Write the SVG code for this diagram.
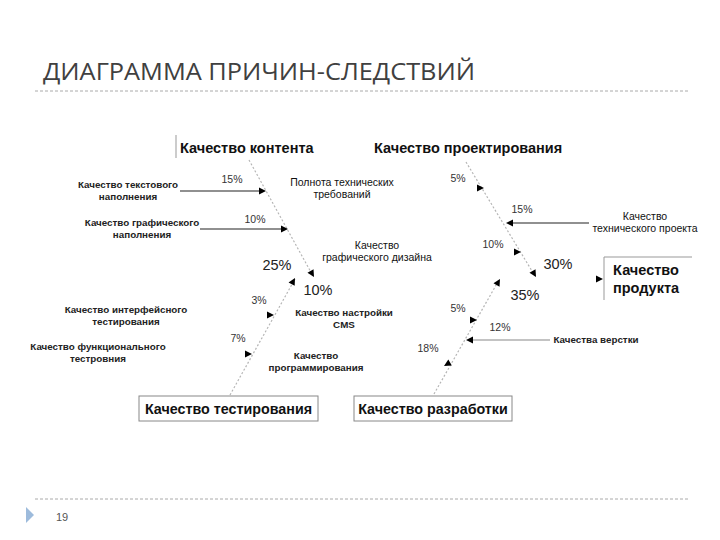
<svg xmlns="http://www.w3.org/2000/svg" width="720" height="540" viewBox="0 0 720 540">
<style>
.sm{font-family:"Liberation Sans",Arial,sans-serif;font-size:10.5px;fill:#111;text-anchor:middle}
.smb{font-family:"Liberation Sans",Arial,sans-serif;font-size:9.8px;font-weight:bold;fill:#222;text-anchor:middle}
.pc{font-family:"Liberation Sans",Arial,sans-serif;font-size:10.5px;fill:#333;text-anchor:middle}
.pl{font-family:"Liberation Sans",Arial,sans-serif;font-size:14.5px;fill:#222;text-anchor:middle}
.hd{font-family:"Liberation Sans",Arial,sans-serif;font-size:14.5px;font-weight:bold;fill:#111}
.bx{font-family:"Liberation Sans",Arial,sans-serif;font-size:14.3px;font-weight:bold;fill:#111;text-anchor:middle}
.bone{stroke:#b5b5b5;stroke-width:1.2;stroke-dasharray:2 2;fill:none}
.hl{stroke:#222;stroke-width:1.2;fill:none}
.hlg{stroke:#888;stroke-width:1.2;fill:none}
.box{fill:#fff;stroke:#888;stroke-width:1}
.dash{stroke:#aaa;stroke-width:1;stroke-dasharray:3 2}
</style>
<defs>
<path id="ah" d="M0,0 L-7,-3.5 L-7,3.5 Z" fill="#000"/>
</defs>

<g id="title">
<text x="43" y="80" font-family="'Open Sans','Liberation Sans',sans-serif" font-size="24" fill="#404040" textLength="432" lengthAdjust="spacingAndGlyphs">ДИАГРАММА ПРИЧИН-СЛЕДСТВИЙ</text>
<line x1="35" y1="91" x2="690" y2="91" class="dash"/>
</g>

<g id="footer">
<line x1="35" y1="499" x2="690" y2="499" class="dash"/>
<polygon points="26,507 34,515 26,523" fill="#9dbbdc"/>
<text x="56" y="521" font-family="'Liberation Sans',sans-serif" font-size="11" fill="#555">19</text>
</g>

<g id="connectors">
<line class="bone" x1="249" y1="160" x2="313" y2="276"/>
<line class="bone" x1="466" y1="162" x2="535" y2="276"/>
<line class="bone" x1="230" y1="395" x2="295" y2="279"/>
<line class="bone" x1="434" y1="394" x2="499" y2="280"/>
<line class="hl" x1="180" y1="191" x2="260" y2="191"/>
<line class="hl" x1="200" y1="229" x2="282" y2="229"/>
<line class="hl" x1="512" y1="223" x2="589" y2="223"/>
<line class="hlg" x1="472" y1="340" x2="550" y2="340"/>
<use href="#ah" transform="translate(266,191)"/>
<use href="#ah" transform="translate(288,229)"/>
<use href="#ah" transform="translate(314,277) rotate(60)"/>
<use href="#ah" transform="translate(484,188)"/>
<use href="#ah" transform="translate(506,223) rotate(180)"/>
<use href="#ah" transform="translate(521,252)"/>
<use href="#ah" transform="translate(536,277) rotate(60)"/>
<use href="#ah" transform="translate(295,278) rotate(-61)"/>
<use href="#ah" transform="translate(274,315)"/>
<use href="#ah" transform="translate(252,354)"/>
<use href="#ah" transform="translate(500,279) rotate(-60)"/>
<use href="#ah" transform="translate(477,320)"/>
<use href="#ah" transform="translate(466,340) rotate(180)"/>
<use href="#ah" transform="translate(444,366) rotate(150)"/>
<use href="#ah" transform="translate(603,279)"/>
</g>

<g id="content">
<line x1="176" y1="135" x2="176" y2="158" stroke="#999" stroke-width="1"/>
<text class="hd" x="180" y="153">Качество контента</text>
</g>
<g id="design">
<text class="hd" x="374" y="153">Качество проектирования</text>
</g>
<g id="testing">
<rect class="box" x="139" y="396" width="179" height="25"/>
<text class="bx" x="228.5" y="414">Качество тестирования</text>
</g>
<g id="development">
<rect class="box" x="354" y="396" width="158" height="25"/>
<text class="bx" x="433" y="414">Качество разработки</text>
</g>
<g id="product">
<path d="M604,300 V257 H692" fill="none" stroke="#999" stroke-width="1"/>
<text class="hd" x="646" y="275" text-anchor="middle" font-size="14.8">Качество</text>
<text class="hd" x="646" y="293" text-anchor="middle" font-size="14.8">продукта</text>
</g>

<g id="causes">
<text class="smb" x="128" y="188">Качество текстового</text>
<text class="smb" x="128" y="200">наполнения</text>
<text class="smb" x="142" y="226">Качество графического</text>
<text class="smb" x="142" y="238">наполнения</text>
<text class="sm" x="342" y="186">Полнота технических</text>
<text class="sm" x="342" y="198">требований</text>
<text class="sm" x="377" y="249">Качество</text>
<text class="sm" x="377" y="261">графического дизайна</text>
<text class="sm" x="645" y="220">Качество</text>
<text class="sm" x="645" y="232">технического проекта</text>
<text class="smb" x="126" y="313">Качество интерфейсного</text>
<text class="smb" x="126" y="325">тестирования</text>
<text class="smb" x="98" y="350">Качество функционального</text>
<text class="smb" x="98" y="362">тестровния</text>
<text class="smb" x="344" y="316">Качество настройки</text>
<text class="smb" x="344" y="328">CMS</text>
<text class="smb" x="316" y="359">Качество</text>
<text class="smb" x="316" y="371">программирования</text>
<text class="smb" x="596" y="343">Качества верстки</text>
</g>

<g id="percents">
<text class="pc" x="232" y="183">15%</text>
<text class="pc" x="255" y="223">10%</text>
<text class="pc" x="458" y="182">5%</text>
<text class="pc" x="522" y="213">15%</text>
<text class="pc" x="493" y="248">10%</text>
<text class="pc" x="259" y="304">3%</text>
<text class="pc" x="238" y="342">7%</text>
<text class="pc" x="458" y="312">5%</text>
<text class="pc" x="500" y="331">12%</text>
<text class="pc" x="428" y="352">18%</text>
<text class="pl" x="277" y="270">25%</text>
<text class="pl" x="318" y="295">10%</text>
<text class="pl" x="558" y="269">30%</text>
<text class="pl" x="525" y="300">35%</text>
</g>
</svg>
